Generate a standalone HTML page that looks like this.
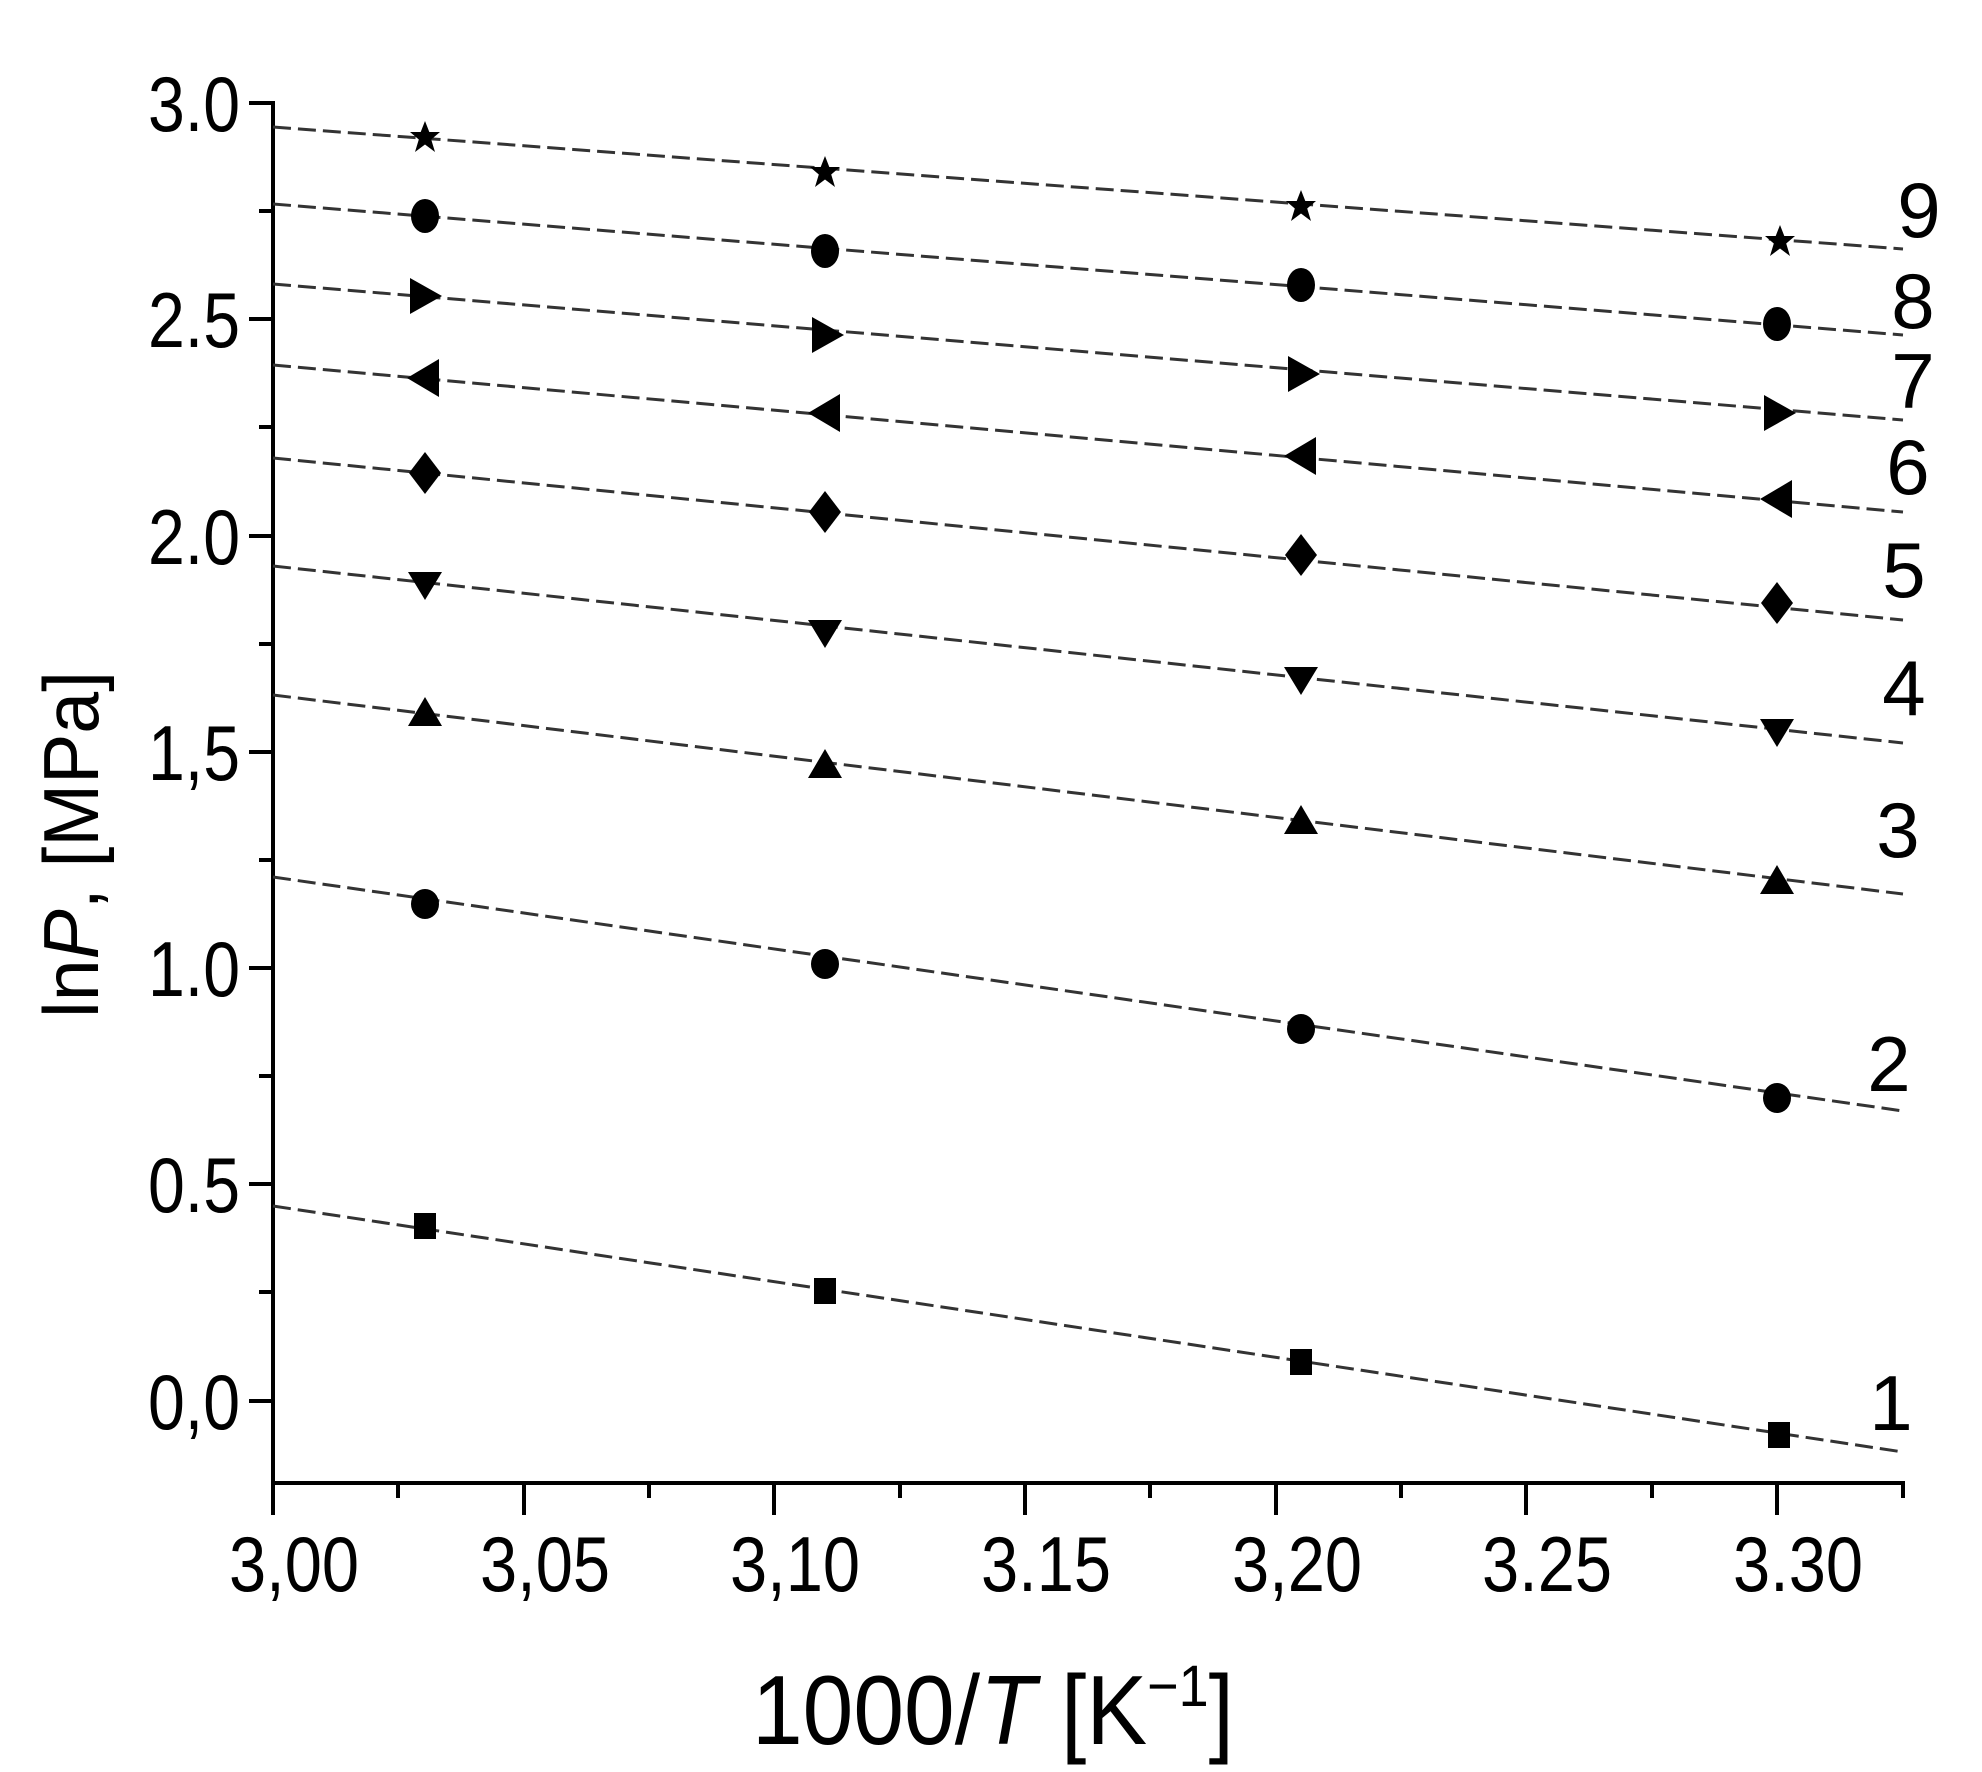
<!DOCTYPE html>
<html><head><meta charset="utf-8"><style>
html,body{margin:0;padding:0;background:#fff;}
svg{display:block;}
text{font-family:"Liberation Sans",sans-serif;fill:#000;}
</style></head><body>
<svg width="1982" height="1772" viewBox="0 0 1982 1772" xmlns="http://www.w3.org/2000/svg">
<defs>
<path id="star" d="M0,-16 L4.3,-5 L15,-5 L6.2,2.5 L10,15 L0,7.5 L-10,15 L-6.2,2.5 L-15,-5 L-4.3,-5Z"/>
</defs>
<g stroke="#000" stroke-width="4" fill="none">
<line x1="273" y1="101" x2="273" y2="1485"/>
<line x1="271" y1="1483" x2="1905" y2="1483"/>
<line x1="249" y1="103" x2="273" y2="103"/>
<line x1="249" y1="319" x2="273" y2="319"/>
<line x1="249" y1="536" x2="273" y2="536"/>
<line x1="249" y1="752" x2="273" y2="752"/>
<line x1="249" y1="968" x2="273" y2="968"/>
<line x1="249" y1="1184" x2="273" y2="1184"/>
<line x1="249" y1="1401" x2="273" y2="1401"/>
<line x1="259" y1="211" x2="273" y2="211"/>
<line x1="259" y1="427" x2="273" y2="427"/>
<line x1="259" y1="644" x2="273" y2="644"/>
<line x1="259" y1="860" x2="273" y2="860"/>
<line x1="259" y1="1076" x2="273" y2="1076"/>
<line x1="259" y1="1292" x2="273" y2="1292"/>
<line x1="273" y1="1483" x2="273" y2="1515"/>
<line x1="524" y1="1483" x2="524" y2="1515"/>
<line x1="774" y1="1483" x2="774" y2="1515"/>
<line x1="1025" y1="1483" x2="1025" y2="1515"/>
<line x1="1276" y1="1483" x2="1276" y2="1515"/>
<line x1="1526" y1="1483" x2="1526" y2="1515"/>
<line x1="1777" y1="1483" x2="1777" y2="1515"/>
<line x1="398" y1="1483" x2="398" y2="1498"/>
<line x1="649" y1="1483" x2="649" y2="1498"/>
<line x1="900" y1="1483" x2="900" y2="1498"/>
<line x1="1150" y1="1483" x2="1150" y2="1498"/>
<line x1="1401" y1="1483" x2="1401" y2="1498"/>
<line x1="1652" y1="1483" x2="1652" y2="1498"/>
<line x1="1903" y1="1483" x2="1903" y2="1498"/>
</g>
<g font-size="78" text-anchor="end">
<text x="240" y="131" textLength="92" lengthAdjust="spacingAndGlyphs">3.0</text>
<text x="240" y="347" textLength="92" lengthAdjust="spacingAndGlyphs">2.5</text>
<text x="240" y="564" textLength="92" lengthAdjust="spacingAndGlyphs">2.0</text>
<text x="240" y="780" textLength="92" lengthAdjust="spacingAndGlyphs">1,5</text>
<text x="240" y="996" textLength="92" lengthAdjust="spacingAndGlyphs">1.0</text>
<text x="240" y="1212" textLength="92" lengthAdjust="spacingAndGlyphs">0.5</text>
<text x="240" y="1429" textLength="92" lengthAdjust="spacingAndGlyphs">0,0</text>
</g>
<g font-size="78" text-anchor="middle">
<text x="294" y="1591" textLength="130" lengthAdjust="spacingAndGlyphs">3,00</text>
<text x="545" y="1591" textLength="130" lengthAdjust="spacingAndGlyphs">3,05</text>
<text x="795" y="1591" textLength="130" lengthAdjust="spacingAndGlyphs">3,10</text>
<text x="1046" y="1591" textLength="130" lengthAdjust="spacingAndGlyphs">3.15</text>
<text x="1297" y="1591" textLength="130" lengthAdjust="spacingAndGlyphs">3,20</text>
<text x="1547" y="1591" textLength="130" lengthAdjust="spacingAndGlyphs">3.25</text>
<text x="1798" y="1591" textLength="130" lengthAdjust="spacingAndGlyphs">3.30</text>
</g>
<text x="752" y="1744" font-size="98" textLength="482" lengthAdjust="spacingAndGlyphs">1000/<tspan font-style="italic">T</tspan>  [K<tspan font-size="58" dy="-38">−1</tspan><tspan dy="38">]</tspan></text>
<text transform="translate(98,1018) rotate(-90)" font-size="78" textLength="347" lengthAdjust="spacingAndGlyphs">ln<tspan font-style="italic">P</tspan>, [MPa]</text>
<g stroke="#333" stroke-width="3" stroke-dasharray="18 7" fill="none">
<line x1="273" y1="127" x2="1903" y2="249"/>
<line x1="273" y1="204" x2="1903" y2="335"/>
<line x1="273" y1="284" x2="1903" y2="420"/>
<line x1="273" y1="365" x2="1903" y2="512"/>
<line x1="273" y1="458" x2="1903" y2="620"/>
<line x1="273" y1="566" x2="1903" y2="743"/>
<line x1="273" y1="695" x2="1903" y2="894"/>
<line x1="273" y1="877" x2="1903" y2="1111"/>
<line x1="273" y1="1206" x2="1903" y2="1452"/>
</g>
<g fill="#000">
<use href="#star" x="425" y="137"/>
<use href="#star" x="825" y="172"/>
<use href="#star" x="1301" y="206"/>
<use href="#star" x="1780" y="241"/>
<ellipse cx="425" cy="216" rx="14" ry="17"/>
<ellipse cx="825" cy="251" rx="14" ry="17"/>
<ellipse cx="1301" cy="285" rx="14" ry="17"/>
<ellipse cx="1777" cy="324" rx="14" ry="17"/>
<path d="M410,278 L442,296 L410,314Z"/>
<path d="M812,317 L844,335 L812,353Z"/>
<path d="M1288,356 L1320,374 L1288,392Z"/>
<path d="M1764,395 L1796,413 L1764,431Z"/>
<path d="M439,359 L407,378 L439,397Z"/>
<path d="M840,394 L808,413 L840,432Z"/>
<path d="M1316,437 L1284,456 L1316,475Z"/>
<path d="M1792,480 L1760,499 L1792,518Z"/>
<path d="M425,452 L441,473 L425,494 L409,473Z"/>
<path d="M825,491 L841,512 L825,533 L809,512Z"/>
<path d="M1301,534 L1317,555 L1301,576 L1285,555Z"/>
<path d="M1777,582 L1793,603 L1777,624 L1761,603Z"/>
<path d="M408,572 L442,572 L425,600Z"/>
<path d="M808,620 L842,620 L825,648Z"/>
<path d="M1284,667 L1318,667 L1301,695Z"/>
<path d="M1760,719 L1794,719 L1777,747Z"/>
<path d="M408,726 L442,726 L425,697Z"/>
<path d="M808,778 L842,778 L825,749Z"/>
<path d="M1284,834 L1318,834 L1301,805Z"/>
<path d="M1760,894 L1794,894 L1777,865Z"/>
<ellipse cx="425" cy="904" rx="14" ry="15"/>
<ellipse cx="825" cy="964" rx="14" ry="15"/>
<ellipse cx="1301" cy="1029" rx="14" ry="15"/>
<ellipse cx="1777" cy="1098" rx="14" ry="15"/>
<rect x="414" y="1213" width="22" height="26"/>
<rect x="814" y="1278" width="22" height="26"/>
<rect x="1290" y="1349" width="22" height="26"/>
<rect x="1768" y="1422" width="22" height="26"/>
</g>
<g font-size="78" text-anchor="middle">
<text x="1919" y="237">9</text>
<text x="1913" y="328">8</text>
<text x="1913" y="408">7</text>
<text x="1908" y="494">6</text>
<text x="1904" y="597">5</text>
<text x="1904" y="715">4</text>
<text x="1898" y="857">3</text>
<text x="1889" y="1091">2</text>
<text x="1891" y="1430">1</text>
</g>
</svg>
</body></html>
